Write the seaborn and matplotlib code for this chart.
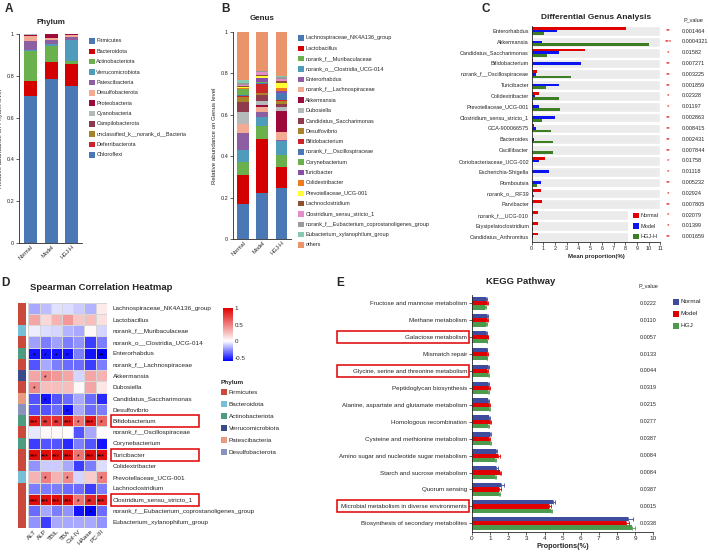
# Gut microbiota figure: phylum / genus composition, differential genera,
# Spearman heatmap and KEGG pathways
import numpy as np
import pandas as pd
import matplotlib
matplotlib.use("Agg")
import matplotlib.pyplot as plt
import seaborn as sns
from matplotlib.patches import Rectangle
from matplotlib.colors import LinearSegmentedColormap, ListedColormap

# ------------------------------------------
# DATA
# ------------------------------------------
groups = ["Normal", "Model", "HGJ-H"]

phyla = ["Firmicutes", "Bacteroidota", "Actinobacteriota", "Verrucomicrobiota",
         "Patescibacteria", "Desulfobacterota", "Proteobacteria", "Cyanobacteria",
         "Campilobacterota", "unclassified_k__norank_d__Bacteria",
         "Deferribacterota", "Chloroflexi"]
phylum_normal = [0.705, 0.070, 0.145, 0.002, 0.045, 0.023, 0.007, 0.001, 0.001, 0.0005, 0.0005, 0.0]
phylum_model = [0.785, 0.080, 0.078, 0.007, 0.020, 0.010, 0.018, 0.001, 0.001, 0.0, 0.0, 0.0]
phylum_hgj = [0.750, 0.105, 0.017, 0.100, 0.013, 0.010, 0.004, 0.001, 0.0, 0.0, 0.0, 0.0]
phylum_colors = ["#4a78b5", "#d40000", "#6ab04c", "#4f9bbb", "#8e5ea2", "#f2ab92",
                 "#9b0a3a", "#b4baba", "#8b3a4c", "#a5832a", "#cc2229", "#4a78b5"]

genera = ["Lachnospiraceae_NK4A136_group", "Lactobacillus", "norank_f__Muribaculaceae",
          "norank_o__Clostridia_UCG-014", "Enterorhabdus", "norank_f__Lachnospiraceae",
          "Akkermansia", "Dubosiella", "Candidatus_Saccharimonas", "Desulfovibrio",
          "Bifidobacterium", "norank_f__Oscillospiraceae", "Corynebacterium",
          "Turicibacter", "Colidextribacter", "Prevotellaceae_UCG-001",
          "Lachnoclostridium", "Clostridium_sensu_stricto_1",
          "norank_f__Eubacterium_coprostanoligenes_group",
          "Eubacterium_xylanophilum_group", "others"]
genus_normal = [0.170, 0.140, 0.063, 0.058, 0.082, 0.041, 0.003, 0.058, 0.046, 0.026, 0.004,
                0.004, 0.028, 0.004, 0.004, 0.002, 0.008, 0.002, 0.012, 0.012, 0.233]
genus_model = [0.224, 0.257, 0.065, 0.045, 0.021, 0.027, 0.008, 0.021, 0.028, 0.011, 0.040,
               0.007, 0.006, 0.016, 0.004, 0.007, 0.004, 0.015, 0.004, 0.004, 0.186]
genus_hgj = [0.245, 0.104, 0.057, 0.067, 0.007, 0.039, 0.099, 0.021, 0.013, 0.015, 0.003,
             0.034, 0.003, 0.006, 0.017, 0.024, 0.011, 0.008, 0.008, 0.008, 0.211]
genus_colors = ["#4a78b5", "#d40000", "#6ab04c", "#4f9bbb", "#8e5ea2", "#f2ab92", "#9b0a3a",
                "#b4baba", "#8f3a4d", "#a9842b", "#cc2529", "#4a78b5", "#6ab04c", "#8b4ea8",
                "#ee7b1f", "#ffff33", "#8d5230", "#e38cc8", "#9a9a9a", "#86cbb0", "#e9946a"]

diff_genera = ["Enterorhabdus", "Akkermansia", "Candidatus_Saccharimonas", "Bifidobacterium",
               "norank_f__Oscillospiraceae", "Turicibacter", "Colidextribacter",
               "Prevotellaceae_UCG-001", "Clostridium_sensu_stricto_1", "GCA-900066575",
               "Bacteroides", "Oscillibacter", "Coriobacteriaceae_UCG-002",
               "Escherichia-Shigella", "Romboutsia", "norank_o__RF39", "Parvibacter",
               "norank_f__UCG-010", "Erysipelatoclostridium", "Candidatus_Arthromitus"]
diff_normal = [8.10, 0.02, 4.56, 0.14, 0.48, 0.03, 0.63, 0.08, 0.03, 0.17,
               0.01, 0.02, 1.14, 0.01, 0.02, 0.80, 0.85, 0.54, 0.51, 0.54]
diff_model = [2.20, 0.85, 2.30, 4.19, 0.40, 2.34, 0.28, 0.66, 1.97, 0.40,
              0.17, 0.02, 0.60, 1.51, 0.80, 0.11, 0.08, 0.14, 0.03, 0.11]
diff_hgj = [1.03, 10.06, 1.28, 0.14, 3.36, 1.22, 2.36, 2.45, 0.88, 1.65,
            1.80, 1.82, 0.03, 0.02, 0.46, 0.23, 0.02, 0.03, 0.11, 0.03]
diff_stars = ["**", "***", "*", "**", "**", "**", "*", "*", "**", "**",
              "**", "**", "*", "*", "**", "*", "**", "*", "*", "**"]
diff_p = ["0.001464", "0.0004321", "0.01582", "0.007271", "0.003225", "0.001859",
          "0.02328", "0.01197", "0.002863", "0.008415", "0.002431", "0.007844",
          "0.01758", "0.01118", "0.005232", "0.02924", "0.007805", "0.02079",
          "0.01399", "0.001659"]
diff_colors = ["#e00000", "#0a14f0", "#3d7d24"]

markers = ["ALT", "ALP", "TBIL", "TBA", "Col-IV", "HAase", "PC-III"]
heat_genera = genera[:20]
heat_phylum = [0, 0, 1, 0, 2, 0, 3, 0, 4, 5, 2, 0, 2, 0, 0, 1, 0, 0, 0, 0]
heat_values = [
    [-0.20, -0.15, -0.07, -0.08, -0.12, -0.18, 0.08],
    [0.35, 0.15, 0.30, 0.40, 0.22, 0.25, 0.12],
    [-0.04, -0.08, -0.10, -0.18, -0.20, 0.03, -0.10],
    [-0.22, -0.30, -0.22, -0.30, -0.25, -0.45, -0.30],
    [-0.55, -0.55, -0.55, -0.55, -0.30, -0.55, -0.60],
    [-0.40, -0.20, -0.30, -0.35, -0.35, -0.45, -0.30],
    [0.35, 0.45, 0.40, 0.35, -0.10, 0.35, 0.30],
    [0.45, 0.25, 0.25, 0.25, 0.03, 0.35, 0.10],
    [-0.40, -0.55, -0.40, -0.35, -0.20, -0.35, -0.50],
    [-0.40, -0.40, -0.35, -0.55, -0.20, -0.35, -0.30],
    [0.90, 0.80, 0.80, 0.90, 0.55, 0.90, 0.60],
    [-0.05, 0.03, 0.03, 0.0, -0.40, -0.20, 0.0],
    [-0.45, -0.40, -0.40, -0.50, -0.30, -0.40, -0.55],
    [0.95, 0.95, 0.95, 0.95, 0.55, 0.95, 0.95],
    [-0.25, -0.12, -0.12, -0.20, -0.45, -0.30, -0.08],
    [0.30, 0.50, 0.30, 0.45, -0.10, 0.20, 0.50],
    [-0.30, -0.30, -0.30, -0.35, -0.35, -0.45, -0.30],
    [0.95, 0.95, 0.95, 0.95, 0.55, 0.85, 0.90],
    [-0.35, -0.20, -0.30, -0.25, -0.55, -0.60, -0.35],
    [-0.25, -0.45, -0.20, -0.20, -0.20, -0.20, -0.25],
]
heat_stars = [
    ["", "", "", "", "", "", ""],
    ["", "", "", "", "", "", ""],
    ["", "", "", "", "", "", ""],
    ["", "", "", "", "", "", ""],
    ["*", "*", "*", "*", "", "", "**"],
    ["", "", "", "", "", "", ""],
    ["", "*", "", "", "", "", ""],
    ["*", "", "", "", "", "", ""],
    ["", "*", "", "", "", "", ""],
    ["", "", "", "*", "", "", ""],
    ["***", "**", "**", "***", "*", "***", "*"],
    ["", "", "", "", "", "", ""],
    ["", "", "", "", "", "", ""],
    ["***", "***", "***", "***", "*", "***", "***"],
    ["", "", "", "", "", "", ""],
    ["", "*", "", "*", "", "", "*"],
    ["", "", "", "", "", "", ""],
    ["***", "***", "***", "***", "*", "**", "***"],
    ["", "", "", "", "", "*", ""],
    ["", "", "", "", "", "", ""],
]
heat_phyla = ["Firmicutes", "Bacteroidota", "Actinobacteriota", "Verrucomicrobiota",
              "Patescibacteria", "Desulfobacterota"]
heat_phyla_colors = ["#c94a3c", "#76bfd6", "#4d9b80", "#3b4a88", "#e79c82", "#8a92be"]

pathways = ["Fructose and mannose metabolism", "Methane metabolism", "Galactose metabolism",
            "Mismatch repair", "Glycine, serine and threonine metabolism",
            "Peptidoglycan biosynthesis", "Alanine, aspartate and glutamate metabolism",
            "Homologous recombination", "Cysteine and methionine metabolism",
            "Amino sugar and nucleotide sugar metabolism", "Starch and sucrose metabolism",
            "Quorum sensing", "Microbial metabolism in diverse environments",
            "Biosynthesis of secondary metabolites"]
kegg_groups = ["Normal", "Model", "HGJ"]
kegg_normal = [0.78, 0.82, 0.78, 0.80, 0.88, 0.90, 0.90, 0.92, 1.02, 1.32, 1.30, 1.62, 4.48, 8.62]
kegg_model = [0.82, 0.82, 0.86, 0.85, 0.82, 0.93, 0.95, 0.98, 0.95, 1.45, 1.52, 1.50, 4.27, 8.49]
kegg_hgj = [0.73, 0.76, 0.80, 0.80, 0.88, 0.90, 0.93, 0.90, 1.00, 1.28, 1.25, 1.48, 4.34, 8.84]
kegg_err_normal = [0.06, 0.04, 0.06, 0.05, 0.04, 0.05, 0.04, 0.05, 0.05, 0.08, 0.12, 0.15, 0.12, 0.25]
kegg_err_model = [0.05, 0.04, 0.05, 0.05, 0.04, 0.04, 0.05, 0.06, 0.05, 0.10, 0.10, 0.08, 0.10, 0.15]
kegg_err_hgj = [0.04, 0.04, 0.05, 0.04, 0.04, 0.04, 0.04, 0.05, 0.05, 0.07, 0.08, 0.08, 0.08, 0.15]
kegg_p = ["0.0222", "0.0110", "0.0057", "0.0133", "0.0044", "0.0319", "0.0215",
          "0.0277", "0.0387", "0.0084", "0.0084", "0.0387", "0.0015", "0.0338"]
kegg_colors = ["#3f4c9e", "#e00000", "#4c9a4c"]
kegg_boxed = [2, 4, 12]
heat_boxed = [10, 13, 17]

# ------------------------------------------
# FIGURE HELPERS (pixel layout)
# ------------------------------------------
sns.set_style("white")
plt.rcParams["font.family"] = ["Liberation Sans", "DejaVu Sans"]
plt.rcParams["axes.linewidth"] = 0.6
plt.rcParams["xtick.major.width"] = 0.5
plt.rcParams["ytick.major.width"] = 0.5

W, H = 708, 553
fig = plt.figure(figsize=(W / 100, H / 100), dpi=100)


def px_axes(x0, y0, x1, y1):
    return fig.add_axes([x0 / W, 1 - y1 / H, (x1 - x0) / W, (y1 - y0) / H])


def fig_text(x, y, s, **kw):
    return fig.text(x / W, 1 - y / H, s, **kw)


def px_rect(x0, y0, x1, y1, **kw):
    fig.patches.append(Rectangle((x0 / W, 1 - y1 / H), (x1 - x0) / W, (y1 - y0) / H,
                                 transform=fig.transFigure, **kw))


def px_legend(x, y, labels, colors, pitch, size=5.5, fs=4):
    for i, (lab, c) in enumerate(zip(labels, colors)):
        yy = y + i * pitch
        px_rect(x, yy - size / 2, x + size, yy + size / 2, facecolor=c, edgecolor="none")
        fig_text(x + size + 1.8, yy, lab, va="center", ha="left", fontsize=fs)


def label_box(ax, row, x0, x1, half):
    # red frame around a row label, row position taken from the axes
    yc = H - ax.transData.transform((0, row))[1]
    px_rect(x0, yc - half, x1, yc + half, fill=False, edgecolor="#e00000", lw=1.1)


def stacked_bars(ax, table, colors):
    tops = np.cumsum(table, axis=0)
    for i in range(len(table) - 1, -1, -1):
        sns.barplot(x=groups, y=tops[i], color=colors[i], width=0.63, saturation=1,
                    linewidth=0, ax=ax)


def style_composition(ax, ylabel):
    ax.set_ylim(0, 1)
    ax.set_xlim(-0.55, 2.5)
    ax.set_yticks([0, 0.2, 0.4, 0.6, 0.8, 1])
    ax.set_yticklabels(["0", "0.2", "0.4", "0.6", "0.8", "1"])
    ax.tick_params(axis="y", labelsize=4, length=2, pad=1.5, left=True)
    ax.tick_params(axis="x", labelsize=4, length=0, pad=1)
    plt.setp(ax.get_xticklabels(), rotation=45, ha="right", rotation_mode="anchor")
    sns.despine(ax=ax)
    ax.set_ylabel(ylabel, fontsize=4.4, labelpad=2)
    ax.set_xlabel("")


# ------------------------------------------
# A  PHYLUM
# ------------------------------------------
axa = px_axes(19, 34, 82, 243)
stacked_bars(axa, np.column_stack([phylum_normal, phylum_model, phylum_hgj]), phylum_colors)
style_composition(axa, "Relative abundance on Phylum level")
axa.set_title("Phylum", fontsize=5.8, fontweight="bold", pad=7)
px_legend(89, 41, phyla, phylum_colors, 10.36)

# ------------------------------------------
# B  GENUS
# ------------------------------------------
axb = px_axes(233, 32, 291, 239)
stacked_bars(axb, np.column_stack([genus_normal, genus_model, genus_hgj]), genus_colors)
style_composition(axb, "Relative abundance on Genus level")
axb.set_title("Genus", fontsize=5.8, fontweight="bold", pad=9)
px_legend(298, 38, genera, genus_colors, 10.35)

# ------------------------------------------
# C  DIFFERENTIAL GENERA
# ------------------------------------------
axc = px_axes(531.7, 25.6, 660.3, 242.1)
dfc = pd.DataFrame({
    "genus": diff_genera * 3,
    "value": diff_normal + diff_model + diff_hgj,
    "group": [g for g in groups for _ in diff_genera],
})
sns.barplot(data=dfc, y="genus", x="value", hue="group", hue_order=groups,
            palette=diff_colors, orient="h", width=0.74, saturation=1,
            errorbar=None, legend=False, linewidth=0, ax=axc)
axc.barh(np.arange(len(diff_genera)), 11, height=0.9, color="#ebebeb", zorder=0.5)
axc.set_xlim(0, 11)
axc.set_ylim(len(diff_genera) - 0.5, -0.5)
axc.set_xticks(range(12))
axc.tick_params(axis="x", labelsize=4, length=2, pad=1, bottom=True)
axc.tick_params(axis="y", labelsize=4, length=0, pad=2)
axc.set_xlabel("Mean proportion(%)", fontsize=4.3, fontweight="bold", labelpad=2)
axc.set_ylabel("")
axc.set_title("Differential Genus Analysis", fontsize=6, fontweight="bold", pad=5)
sns.despine(ax=axc)
for i in range(len(diff_genera)):
    axc.text(11.66, i, diff_stars[i], color="#e00000", ha="center", va="center",
             fontsize=4.5, clip_on=False)
    axc.text(12.8, i, diff_p[i], ha="left", va="center", fontsize=4, clip_on=False)
fig_text(693, 20, "P_value", ha="center", va="center", fontsize=4)
px_rect(628, 210, 660, 242, facecolor="white", edgecolor="none")
px_legend(633, 215.3, groups, diff_colors, 10.7)

# ------------------------------------------
# D  SPEARMAN HEATMAP
# ------------------------------------------
hax = px_axes(28.3, 302.7, 106.7, 527.7)
cax = px_axes(222.7, 308, 232.7, 361)
pax = px_axes(18, 302.7, 26, 527.7)

corr = pd.DataFrame(heat_values, index=heat_genera, columns=markers)
cmap = LinearSegmentedColormap.from_list(
    "corr", [(0, "#0000ff"), (0.375, "#ffffff"), (1, "#e00000")])
sns.heatmap(corr, cmap=cmap, vmin=-0.6, vmax=1, annot=np.array(heat_stars), fmt="",
            annot_kws={"fontsize": 5, "color": "black"}, linewidths=0.5,
            linecolor="#d6d6d6", cbar_ax=cax, cbar_kws={"ticks": [-0.5, 0, 0.5, 1]},
            xticklabels=True, yticklabels=True, ax=hax)
for t in hax.texts:
    tx, ty = t.get_position()
    t.set_position((tx, ty + 0.2))
hax.yaxis.tick_right()
hax.tick_params(axis="y", labelsize=4.6, length=0, pad=4.5, labelrotation=0)
hax.tick_params(axis="x", labelsize=4.6, length=0, pad=1)
plt.setp(hax.get_xticklabels(), rotation=45, ha="right", rotation_mode="anchor")
plt.setp(hax.get_yticklabels(), ha="left")
cax.set_yticklabels(["-0.5", "0", "0.5", "1"])
cax.tick_params(labelsize=4.5, length=0, pad=1.5)
hax.collections[0].colorbar.outline.set_visible(False)

sns.heatmap(np.array(heat_phylum).reshape(-1, 1), cmap=ListedColormap(heat_phyla_colors),
            vmin=-0.5, vmax=5.5, cbar=False, xticklabels=False, yticklabels=False, ax=pax)

fig_text(29.5, 288, "Spearman Correlation Heatmap", fontsize=6.8, fontweight="bold",
         va="center", ha="left")
fig_text(221, 382.3, "Phylum", fontsize=4.6, fontweight="bold", va="center")
px_legend(220.7, 392.3, heat_phyla, heat_phyla_colors, 12.0, size=6, fs=4.6)
for r in heat_boxed:
    label_box(hax, r + 0.5, 111, 199.3, 6.0)

# ------------------------------------------
# E  KEGG PATHWAYS
# ------------------------------------------
axe = px_axes(472, 294.8, 653.3, 531.8)
dfe = pd.DataFrame({
    "pathway": pathways * 3,
    "value": kegg_normal + kegg_model + kegg_hgj,
    "group": [g for g in kegg_groups for _ in pathways],
})
sns.barplot(data=dfe, y="pathway", x="value", hue="group", hue_order=kegg_groups,
            palette=kegg_colors, orient="h", width=0.75, saturation=1,
            errorbar=None, legend=False, linewidth=0, ax=axe)
errs = kegg_err_normal + kegg_err_model + kegg_err_hgj
bar_cols = [c for c in kegg_colors for _ in pathways]
for p, e, c in zip(axe.patches, errs, bar_cols):
    yc = p.get_y() + p.get_height() / 2
    axe.errorbar(p.get_width(), yc, xerr=[[0], [e]], color=c, lw=0.6,
                 capsize=1.2, capthick=0.6)
axe.set_xlim(0, 10)
axe.set_ylim(len(pathways) - 0.5, -0.5)
axe.set_xticks(range(11))
axe.tick_params(axis="x", labelsize=4.6, length=2, pad=1, bottom=True)
axe.tick_params(axis="y", labelsize=4.5, length=2, pad=1.5, left=True)
axe.set_xlabel("Proportions(%)", fontsize=5.2, fontweight="bold", labelpad=1.5)
axe.set_ylabel("")
sns.despine(ax=axe)
fig_text(521, 281, "KEGG Pathway", fontsize=6.8, fontweight="bold", ha="center", va="center")
fig_text(648, 285.7, "P_value", ha="center", va="center", fontsize=4)
for i in range(len(pathways)):
    axe.text(9.71, i, kegg_p[i], ha="center", va="center", fontsize=4, clip_on=False)
px_legend(673, 301.7, kegg_groups, kegg_colors, 12.0, size=6, fs=4.6)
for r in kegg_boxed:
    label_box(axe, r, 336.7, 469.3, 6.0)

# ------------------------------------------
# PANEL LETTERS
# ------------------------------------------
for lab, x, y in [("A", 5, 9), ("B", 221, 9), ("C", 481, 9), ("D", 1.5, 283), ("E", 336, 283)]:
    fig_text(x, y, lab, fontsize=8.5, fontweight="bold", va="center", ha="left")

fig.savefig("out.png", dpi=100)
